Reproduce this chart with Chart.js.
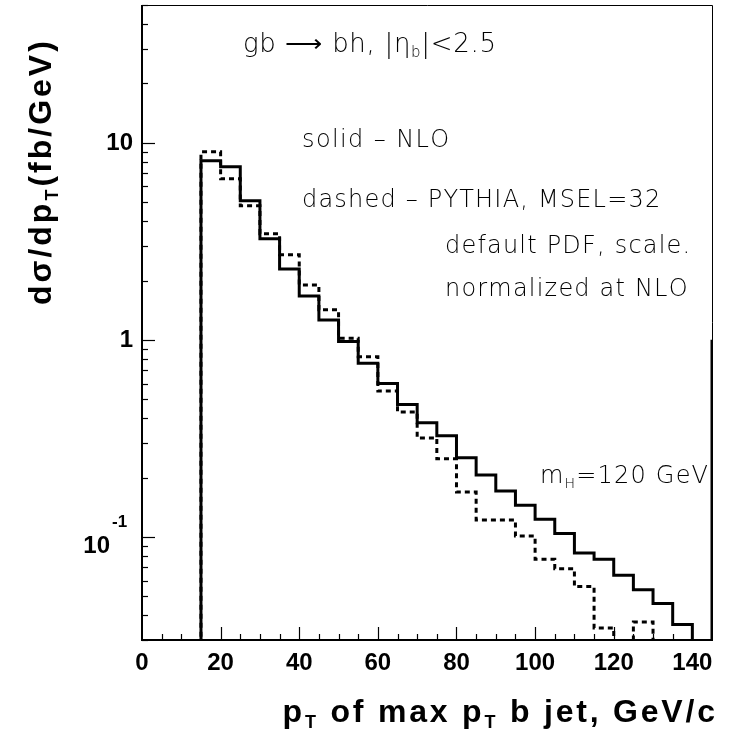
<!DOCTYPE html>
<html lang="en">
<head>
  <meta charset="UTF-8">
  <title>pT of max pT b jet</title>
  <style>
    body {
      margin: 0;
      padding: 0;
      background: #ffffff;
      overflow: hidden;
    }
    #hist {
      display: block;
    }
  </style>
</head>
<body>
  <canvas id="hist" width="729" height="732"></canvas>

  <script src="https://cdn.jsdelivr.net/npm/chart.js"></script>
  <script>
    // lower bin edges (GeV/c), bin width 5
    const binEdges = [10, 15, 20, 25, 30, 35, 40, 45, 50, 55, 60, 65, 70, 75, 80,
                      85, 90, 95, 100, 105, 110, 115, 120, 125, 130, 135, 140, 145, 150];
    // solid - NLO (fb/GeV); 0.01 = empty / below the axis
    const nloValues = [0.01, 8.1, 7.55, 5.08, 3.26, 2.29, 1.67, 1.26, 0.98, 0.76, 0.60, 0.47, 0.38, 0.326, 0.252,
                       0.206, 0.171, 0.145, 0.123, 0.104, 0.083, 0.077, 0.064, 0.054, 0.046, 0.036, 0.02, 1.0, 1.0];
    // dashed - PYTHIA, MSEL=32
    const pythiaValues = [0.01, 9.0, 6.56, 4.79, 3.45, 2.70, 1.90, 1.42, 1.02, 0.82, 0.55, 0.43, 0.318, 0.249, 0.169,
                          0.122, 0.122, 0.101, 0.077, 0.069, 0.056, 0.0345, 0.01, 0.037, 0.01, 0.01, 0.01, 0.01, 0.01];
    const xTickValues = [0, 20, 40, 60, 80, 100, 120, 140];
    const yTickValues = [0.1, 1, 10];

    const toPoints = vals => binEdges.map((x, i) => ({ x: x, y: vals[i] }));

    const lightFont = '"DejaVu Sans", sans-serif';
    const boldFont = '"Liberation Sans", Arial, sans-serif';

    // draw text letter by letter with extra spacing, returns the advance
    function spaced(ctx, text, x, y, gap) {
      let cx = x;
      for (const ch of text) {
        ctx.fillText(ch, cx, y);
        cx += ctx.measureText(ch).width + gap;
      }
      return cx - x;
    }

    // pieces: [text, font, dy]
    function pieces(ctx, parts, x, y, gap) {
      let cx = x;
      parts.forEach(p => {
        ctx.font = p[1];
        cx += spaced(ctx, p[0], cx, y + p[2], gap);
      });
      return cx - x;
    }

    function piecesWidth(ctx, parts, gap) {
      let w = 0;
      parts.forEach(p => {
        ctx.font = p[1];
        for (const ch of p[0]) w += ctx.measureText(ch).width + gap;
      });
      return w;
    }

    // ticks inside the frame, labels, frame and texts
    const decorPlugin = {
      id: 'decor',
      afterDraw(chart) {
        const ctx = chart.ctx;
        const a = chart.chartArea;
        const xs = chart.scales.x;
        const ys = chart.scales.y;
        ctx.save();
        ctx.strokeStyle = '#000';
        ctx.fillStyle = '#000';

        // frame
        ctx.lineWidth = 1;
        ctx.beginPath();
        ctx.moveTo(a.left, a.top + 0.5);
        ctx.lineTo(a.right + 0.5, a.top + 0.5);
        ctx.lineTo(a.right + 0.5, a.bottom);
        ctx.stroke();
        ctx.lineWidth = 2;
        ctx.beginPath();
        ctx.moveTo(a.left, a.top);
        ctx.lineTo(a.left, a.bottom);
        ctx.lineTo(a.right + 1, a.bottom);
        ctx.stroke();

        // y ticks
        ctx.lineWidth = 1.2;
        for (let d = 0.01; d <= 100; d *= 10) {
          for (let k = 1; k <= 9; k++) {
            const v = k * d;
            if (v < ys.min || v > ys.max) continue;
            const y = Math.round(ys.getPixelForValue(v)) + 0.5;
            const len = k === 1 ? 13 : 6;
            ctx.beginPath();
            ctx.moveTo(a.left, y);
            ctx.lineTo(a.left + len, y);
            ctx.stroke();
          }
        }
        // x ticks
        for (let v = 5; v < xs.max; v += 5) {
          const x = Math.round(xs.getPixelForValue(v)) + 0.5;
          const len = v % 20 === 0 ? 13 : 6;
          ctx.beginPath();
          ctx.moveTo(x, a.bottom);
          ctx.lineTo(x, a.bottom - len);
          ctx.stroke();
        }

        // y tick labels
        ctx.font = 'bold 24px ' + boldFont;
        ctx.textBaseline = 'middle';
        ctx.textAlign = 'right';
        yTickValues.forEach(v => {
          const y = ys.getPixelForValue(v);
          if (v >= 1) {
            ctx.fillText(String(v), 133, y + 1);
          } else {
            ctx.fillText('10', 110, y + 9);
            ctx.font = 'bold 17px ' + boldFont;
            ctx.textAlign = 'left';
            ctx.fillText('-' + String(Math.round(-Math.log10(v))), 112, y - 15);
            ctx.font = 'bold 24px ' + boldFont;
            ctx.textAlign = 'right';
          }
        });

        // x title
        ctx.textBaseline = 'alphabetic';
        ctx.textAlign = 'left';
        const big = 'bold 32px ' + boldFont;
        const sub = 'bold 18px ' + boldFont;
        const xParts = [['p', big, 0], ['T', sub, 6], [' of max p', big, 0], ['T', sub, 6], [' b jet, GeV/c', big, 0]];
        const xGap = 2.8;
        const xw = piecesWidth(ctx, xParts, xGap) - xGap;
        pieces(ctx, xParts, 715 - xw, 722, xGap);

        // y title (rotated)
        ctx.save();
        ctx.translate(51, 305);
        ctx.rotate(-Math.PI / 2);
        const yParts = [['d\u03c3/dp', big, 0], ['T', sub, 7], ['(fb/GeV)', big, 0]];
        pieces(ctx, yParts, 0, 0, 3);
        ctx.restore();

        // annotations
        const t26 = '200 26px ' + lightFont;
        const t15 = '200 15px ' + lightFont;
        pieces(ctx, [['gb \u27f6 bh, |\u03b7', t26, 0], ['b', t15, 5], ['|<2.5', t26, 0]], 243, 52, 0.7);

        const t24 = '200 24px ' + lightFont;
        const t14 = '200 14px ' + lightFont;
        ctx.font = t24;
        spaced(ctx, 'solid \u2013 NLO', 302, 147, 1.4);
        spaced(ctx, 'dashed \u2013 PYTHIA, MSEL=32', 302, 207, 1.2);
        spaced(ctx, 'default PDF, scale.', 445, 253, 1.2);
        spaced(ctx, 'normalized at NLO', 445, 296, 1.2);
        pieces(ctx, [['m', t24, 0], ['H', t14, 5], ['=120 GeV', t24, 0]], 540, 483, 1.2);

        ctx.restore();
      }
    };

    const ctx = document.getElementById('hist').getContext('2d');
    new Chart(ctx, {
      type: 'line',
      data: {
        datasets: [
          {
            label: 'PYTHIA',
            data: toPoints(pythiaValues),
            borderColor: '#000',
            borderWidth: 3,
            borderDash: [5, 4],
            stepped: 'before',
            pointRadius: 0,
            fill: false
          },
          {
            label: 'NLO',
            data: toPoints(nloValues),
            borderColor: '#000',
            borderWidth: 3,
            stepped: 'before',
            pointRadius: 0,
            fill: false
          }
        ]
      },
      options: {
        responsive: false,
        animation: false,
        maintainAspectRatio: false,
        devicePixelRatio: 1,
        layout: { padding: { top: 5, right: 17, left: 0, bottom: 0 } },
        plugins: {
          legend: { display: false },
          tooltip: { enabled: false }
        },
        scales: {
          x: {
            type: 'linear',
            min: 0,
            max: 145,
            grid: { display: false, drawTicks: false },
            border: { display: false },
            afterBuildTicks: s => { s.ticks = xTickValues.map(v => ({ value: v })); },
            afterFit: s => { s.height = 92; },
            ticks: {
              color: '#000',
              padding: 9,
              maxRotation: 0,
              autoSkip: false,
              font: { family: 'Liberation Sans', size: 24, weight: 'bold' }
            }
          },
          y: {
            type: 'logarithmic',
            min: 0.03,
            max: 50,
            grid: { display: false, drawTicks: false },
            border: { display: false },
            afterBuildTicks: s => { s.ticks = yTickValues.map(v => ({ value: v })); },
            afterFit: s => { s.width = 142; },
            ticks: { display: false }
          }
        }
      },
      plugins: [decorPlugin]
    });
  </script>
</body>
</html>
